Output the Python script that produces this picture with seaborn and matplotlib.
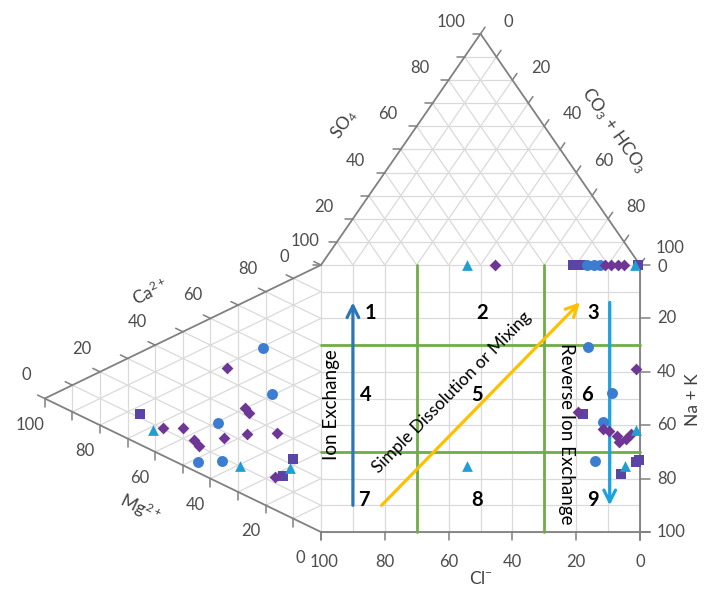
import numpy as np
import pandas as pd
import matplotlib
matplotlib.use("Agg")
import matplotlib.pyplot as plt
import seaborn as sns

sns.set_theme(style="white")
plt.rcParams['font.family'] = ['Lato', 'DejaVu Sans']
plt.rcParams['mathtext.fontset'] = 'custom'
plt.rcParams['mathtext.rm'] = 'Lato'
plt.rcParams['mathtext.it'] = 'Lato:italic'
plt.rcParams['mathtext.default'] = 'rm'

# ---------------- data ----------------
# cation triangle (Ca, Mg, Na+K in %)
cat_diamond_ca = [44.4, 32.7, 31.5, 10.4, 14.1, 11.5, 10.1, 17.7, 23.3, 29.2, 12.3]
cat_diamond_mg = [34.0, 27.5, 26.1, 57.2, 49.9, 46.0, 44.2, 35.1, 26.8, 15.9, 16.6]
cat_circle_ca = [58.4, 42.9, 22.1, 4.0, 8.7]
cat_circle_mg = [21.0, 17.7, 37.3, 44.5, 35.8]
cat_triangle_ca = [7.8, 10.1, 18.4]
cat_triangle_mg = [60.8, 29.3, 11.2]
cat_square_ca = [11.5, 22.3, 14.1]
cat_square_mg = [65.5, 10.1, 13.8]

# square diagram (Cl, Na+K in %)
sq_diamond_cl = [11.0, 9.0, 7.0, 5.0, 45.5, 19.4, 1.3, 11.6, 9.7, 7.2, 6.6, 4.4, 2.8]
sq_diamond_nak = [0, 0, 0, 0, 0, 55.0, 39.0, 61.4, 62.2, 64.0, 66.3, 65.2, 63.3]
sq_circle_cl = [16.5, 14.5, 12.5, 16.3, 8.8, 11.6, 14.1]
sq_circle_nak = [0, 0, 0, 30.7, 48.0, 58.8, 73.4]
sq_triangle_cl = [1.5, 54.2, 1.3, 4.7, 54.2]
sq_triangle_nak = [0, 0, 61.8, 75.3, 75.3]
sq_square_cl = [21.0, 18.5, 0.5, 17.9, 1.3, 0.3, 6.0]
sq_square_nak = [0, 0, 0, 55.8, 73.8, 73.0, 78.3]

ticks_major = [0, 20, 40, 60, 80, 100]
zone_labels = ['1', '2', '3', '4', '5', '6', '7', '8', '9']

# ---------------- geometry helpers ----------------
H = np.sqrt(3) / 2
SX, SY = 3.19, 2.67  # px per data unit


def top_xy(so4, co3):
    so4 = np.asarray(so4, float); co3 = np.asarray(co3, float)
    return 0.5 * so4 + co3, H * so4


def left_xy(mg, nak):
    mg = np.asarray(mg, float); nak = np.asarray(nak, float)
    return -H * mg, -0.5 * mg - nak


def sq_xy(cl, nak):
    return 100 - np.asarray(cl, float), -np.asarray(nak, float)


def off(px, py):
    return px / SX, -py / SY


def px2d(px, py):
    return (px - 321) / SX, (265 - py) / SY


def tick_vec(dx, dy, L=8):
    vx, vy = dx * SX, dy * SY
    n = np.hypot(vx, vy)
    return vx / n * L / SX, vy / n * L / SY


fig = plt.figure(figsize=(7.21, 5.92), dpi=100)
ax = fig.add_axes([0, 0, 1, 1])
ax.set_xlim(-321 / SX, 400 / SX)
ax.set_ylim((265 - 592) / SY, 265 / SY)
ax.axis('off')

GRID = '#dadada'
EDGE = '#808080'
TXT = '#4d4d4d'
glw = 0.9
TFS = 12

# ---------- top triangle grid ----------
for k in range(10, 100, 10):
    for (a, b) in [((k, 0), (k, 100 - k)), ((0, k), (100 - k, k)), ((0, 100 - k), (100 - k, 0))]:
        x, y = top_xy([a[0], b[0]], [a[1], b[1]])
        ax.plot(x, y, color=GRID, lw=glw, zorder=1)
x, y = top_xy([0, 100, 0], [0, 0, 100])
ax.plot(x[:2], y[:2], color=EDGE, lw=1.3, zorder=2)
ax.plot(x[1:], y[1:], color=EDGE, lw=1.3, zorder=2)
tx, ty = tick_vec(-1, 0)
tcx, tcy = tick_vec(0.5, H)
for k in range(0, 101, 10):
    x0, y0 = top_xy(k, 0)
    ax.plot([x0, x0 + tx], [y0, y0 + ty], color=EDGE, lw=1.1, zorder=2)
    x1, y1 = top_xy(100 - k, k)
    ax.plot([x1, x1 + tcx], [y1, y1 + tcy], color=EDGE, lw=1.1, zorder=2)
for k in ticks_major:
    x0, y0 = top_xy(k, 0)
    dx, dy = off(-29, -12) if k else off(-37, -8)
    ax.text(x0 + dx, y0 + dy, str(k), ha='center', va='center', fontsize=TFS, color=TXT)
    x1, y1 = top_xy(100 - k, k)
    dx, dy = off(28, -12) if k < 100 else off(30, -17)
    ax.text(x1 + dx, y1 + dy, str(k), ha='center', va='center', fontsize=TFS, color=TXT)

# ---------- left triangle grid ----------
for k in range(10, 100, 10):
    x, y = left_xy([k, k], [0, 100 - k])
    ax.plot(x, y, color=GRID, lw=glw, zorder=1)
    x, y = left_xy([0, 100 - k], [k, k])
    ax.plot(x, y, color=GRID, lw=glw, zorder=1)
    x, y = left_xy([0, 100 - k], [100 - k, 0])
    ax.plot(x, y, color=GRID, lw=glw, zorder=1)
x, y = left_xy([0, 100, 0], [0, 0, 100])
ax.plot(x[:2], y[:2], color=EDGE, lw=1.3, zorder=2)
ax.plot(x[1:], y[1:], color=EDGE, lw=1.3, zorder=2)
tax, tay = tick_vec(-H, 0.5)
tmx, tmy = tick_vec(0, -1)
for k in range(0, 101, 10):
    x0, y0 = left_xy(100 - k, 0)
    ax.plot([x0, x0 + tax], [y0, y0 + tay], color=EDGE, lw=1.1, zorder=2)
    x1, y1 = left_xy(k, 100 - k)
    ax.plot([x1, x1 + tmx], [y1, y1 + tmy], color=EDGE, lw=1.1, zorder=2)
for k in ticks_major:
    x0, y0 = left_xy(100 - k, 0)
    dx, dy = off(-18, -23) if k < 100 else off(-16, -24)
    ax.text(x0 + dx, y0 + dy, str(k), ha='center', va='center', fontsize=TFS, color=TXT)
    x1, y1 = left_xy(k, 100 - k)
    dx, dy = off(-15, 26) if k else off(-21, 26)
    ax.text(x1 + dx, y1 + dy, str(k), ha='center', va='center', fontsize=TFS, color=TXT)

# ---------- square grid ----------
for k in range(0, 101, 10):
    x, y = sq_xy([k, k], [0, 100])
    ax.plot(x, y, color=GRID, lw=glw, zorder=1)
    x, y = sq_xy([0, 100], [k, k])
    ax.plot(x, y, color=GRID, lw=glw, zorder=1)
ax.plot([0, 100 + 10 / SX], [-100, -100], color=EDGE, lw=1.3, zorder=2)
ax.plot([100, 100], [0, -100 - 8 / SY], color=EDGE, lw=1.3, zorder=2)
for k in ticks_major:
    x, y = sq_xy(k, 100)
    ax.plot([x, x], [y, y - 8 / SY], color=EDGE, lw=1.1, zorder=2)
    ax.text(x + (3 / SX if k == 100 else 0), y - 30 / SY, str(k), ha='center', va='center',
            fontsize=TFS, color=TXT)
    x, y = sq_xy(0, k)
    ax.plot([x, x + 10 / SX], [y, y], color=EDGE, lw=1.1, zorder=2)
    ax.text(x + 17 / SX, y - (2 / SY if k == 0 else 0), str(k), ha='left', va='center',
            fontsize=TFS, color=TXT)

# ---------- zone lines ----------
GREEN = '#70ad47'
for c in [70, 30]:
    x, y = sq_xy([c, c], [0, 100])
    ax.plot(x, y, color=GREEN, lw=2.0, zorder=3)
for n in [30, 70]:
    x, y = sq_xy([0, 100], [n, n])
    ax.plot(x, y, color=GREEN, lw=2.0, zorder=3)


def arrow(p0, p1, color):
    ax.annotate('', xy=p1, xytext=p0,
                arrowprops=dict(arrowstyle='->,head_length=0.7,head_width=0.35',
                                color=color, lw=2.3, shrinkA=0, shrinkB=0), zorder=4)


arrow(sq_xy(90, 90), sq_xy(90, 14), '#2e75b6')
arrow(sq_xy(81, 90), sq_xy(18.8, 14), '#ffc000')
arrow(sq_xy(9.5, 14), sq_xy(9.5, 90), '#1aa3e0')

num_px = [(370, 313), (482, 313), (593, 313), (366, 395), (477, 395), (587, 395),
          (364, 500), (477, 500), (593, 500)]
for lab, (px, py) in zip(zone_labels, num_px):
    ax.text(*px2d(px, py), lab, ha='center', va='center', fontsize=14.5,
            fontweight='bold', color='black', zorder=5)

ax.text(*px2d(332, 405), 'Ion Exchange', rotation=90, ha='center', va='center',
        fontsize=13.5, color='black', zorder=5)
ax.text(*px2d(452, 392), 'Simple Dissolution or Mixing', rotation=45.5, ha='center',
        va='center', fontsize=12.5, color='black', zorder=5, rotation_mode='anchor')
ax.text(*px2d(566, 434), 'Reverse Ion Exchange', rotation=-90, ha='center', va='center',
        fontsize=13.5, color='black', zorder=5)

TT = '#404040'
ax.text(*px2d(481, 579), r'Cl$^{-}$', ha='center', va='center', fontsize=12.5, color=TT)
ax.text(*px2d(693, 400), 'Na + K', rotation=90, ha='center', va='center', fontsize=12.5, color=TT)
ax.text(*px2d(150, 292), r'Ca$^{2+}$', rotation=26, ha='center', va='center', fontsize=12.5, color=TT)
ax.text(*px2d(140, 508), r'Mg$^{2+}$', rotation=-26, ha='center', va='center', fontsize=12.5, color=TT)
ax.text(*px2d(344, 124), r'SO$_{4}$', rotation=55, ha='center', va='center', fontsize=12.5, color=TT)
ax.text(*px2d(614, 130), r'CO$_{3}$ + HCO$_{3}$', rotation=-55, ha='center', va='center',
        fontsize=12.5, color=TT)

# ---------- data points ----------
rows = []


def add(kind, xs, ys):
    for a, b in zip(xs, ys):
        rows.append(dict(kind=kind, x=a, y=b))


def cat_nak(ca, mg):
    return [100 - c - m for c, m in zip(ca, mg)]


add('diamond', *left_xy(cat_diamond_mg, cat_nak(cat_diamond_ca, cat_diamond_mg)))
add('circle', *left_xy(cat_circle_mg, cat_nak(cat_circle_ca, cat_circle_mg)))
add('triangle', *left_xy(cat_triangle_mg, cat_nak(cat_triangle_ca, cat_triangle_mg)))
add('square', *left_xy(cat_square_mg, cat_nak(cat_square_ca, cat_square_mg)))
add('diamond', *sq_xy(sq_diamond_cl, sq_diamond_nak))
add('circle', *sq_xy(sq_circle_cl, sq_circle_nak))
add('triangle', *sq_xy(sq_triangle_cl, sq_triangle_nak))
add('square', *sq_xy(sq_square_cl, sq_square_nak))
df = pd.DataFrame(rows)

styles = {
    'square': ('s', '#5a45a6', 56),
    'circle': ('o', '#3b7dd0', 62),
    'diamond': ('D', '#6e3796', 36),
    'triangle': ('^', '#1f9fd4', 60),
}
for kind in ['square', 'circle', 'diamond', 'triangle']:
    m, c, s = styles[kind]
    sub = df[df.kind == kind]
    sns.scatterplot(data=sub, x='x', y='y', marker=m, color=c, s=s, linewidth=0,
                    ax=ax, zorder=6, legend=False)

ax.set_xlim(-321 / SX, 400 / SX)
ax.set_ylim((265 - 592) / SY, 265 / SY)
ax.axis('off')
fig.savefig('out.png', dpi=100, facecolor='white')
